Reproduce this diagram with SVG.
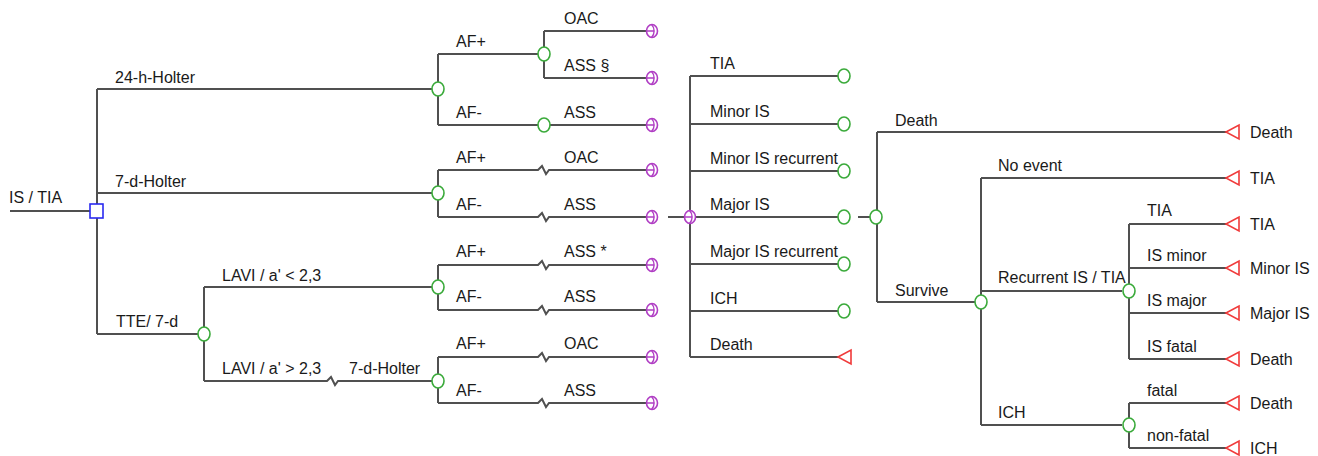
<svg xmlns="http://www.w3.org/2000/svg" width="1318" height="456" viewBox="0 0 1318 456">
<style>
.ln{fill:none;stroke:#505050;stroke-width:2}
.t{font-family:"Liberation Sans",Arial,sans-serif;font-size:16px;fill:#1a1a1a}
.ch{fill:#fff;stroke:#3aaa3a;stroke-width:1.6}
.mk{fill:#fff;stroke:#b03ec4;stroke-width:1.6}
.mi{fill:none;stroke:#b03ec4;stroke-width:1.4}
.tm{fill:#fff;stroke:#f03a3a;stroke-width:1.6}
.dc{fill:#fff;stroke:#2a2af0;stroke-width:1.6}
</style>
<defs>
<g id="chance"><ellipse class="ch" cx="0" cy="0" rx="6" ry="7"/></g>
<g id="markov"><ellipse class="mk" cx="0" cy="0" rx="5.5" ry="6.5"/><path class="mi" d="M-5.5,0 H2 M-0.5,-6.5 C3,-3 3,3 -0.5,6.5"/></g>
<g id="term"><polygon class="tm" points="0,0 13,-7 13,7"/></g>
</defs>
<rect width="1318" height="456" fill="#fff"/>
<g id="connectors">
<path class="ln" d="M10,211 H90 M97,89 V204 M97,218 V334 M97,89 H432 M97,193 H432 M97,334 H198"/>
<path class="ln" d="M204,287 V327 M204,341 V381 M204,287 H432 M204,381 H327 L331,377 L335,385 L338,381 H432"/>
<path class="ln" d="M438,54 V82 M438,96 V125 M438,54 H538 M438,125 H538 M544,31 V47 M544,61 V78 M544,31 H646 M544,78 H646 M550,125 H646"/>
<path class="ln" d="M438,170 V186 M438,200 V217 M438,170 H538 L542,166 L546,174 L549,170 H646 M438,217 H538 L542,213 L546,221 L549,217 H646 M668,217 H684"/>
<path class="ln" d="M438,265 V280 M438,294 V310 M438,265 H538 L542,261 L546,269 L549,265 H646 M438,310 H538 L542,306 L546,314 L549,310 H646"/>
<path class="ln" d="M438,357 V374 M438,388 V403 M438,357 H538 L542,353 L546,361 L549,357 H646 M438,403 H538 L542,399 L546,407 L549,403 H646"/>
<path class="ln" d="M690,76 V357 M690,76 H838 M690,124 H838 M690,171 H838 M696,217 H838 M690,264 H838 M690,311 H838 M690,357 H838"/>
<path class="ln" d="M858,217 H870 M877,132 V210 M877,224 V302 M877,132 H1226 M877,302 H975"/>
<path class="ln" d="M981,178 V295 M981,309 V425 M981,178 H1226 M981,291 H1122 M981,425 H1122"/>
<path class="ln" d="M1129,224 V284 M1129,298 V359 M1129,224 H1226 M1129,268 H1226 M1129,313 H1226 M1129,359 H1226"/>
<path class="ln" d="M1129,403 V418 M1129,432 V448 M1129,403 H1226 M1129,448 H1226"/>
</g>
<g id="n_root"><rect class="dc" x="90" y="204" width="13" height="14"/><text class="t" x="9" y="203">IS / TIA</text></g>
<g id="n_24h"><use href="#chance" x="438" y="89"/><text class="t" x="115" y="83">24-h-Holter</text></g>
<g id="n_7d"><use href="#chance" x="438" y="193"/><text class="t" x="115" y="187">7-d-Holter</text></g>
<g id="n_tte"><use href="#chance" x="204" y="334"/><text class="t" x="116" y="327">TTE/ 7-d</text></g>
<g id="n_lavi_lo"><use href="#chance" x="438" y="287"/><text class="t" x="222" y="281">LAVI / a' &lt; 2,3</text></g>
<g id="n_lavi_hi"><use href="#chance" x="438" y="381"/><text class="t" x="222" y="374">LAVI / a' &gt; 2,3</text><text class="t" x="349" y="374">7-d-Holter</text></g>
<g id="n_g1_afp"><use href="#chance" x="544" y="54"/><text class="t" x="456" y="47">AF+</text></g>
<g id="n_g1_afm"><use href="#chance" x="544" y="125"/><text class="t" x="456" y="118">AF-</text></g>
<g id="n_g1_oac"><use href="#markov" x="652" y="31"/><text class="t" x="564" y="24">OAC</text></g>
<g id="n_g1_ass"><use href="#markov" x="652" y="78"/><text class="t" x="564" y="71">ASS §</text></g>
<g id="n_g1_ass2"><use href="#markov" x="652" y="125"/><text class="t" x="564" y="118">ASS</text></g>
<g id="n_g2_oac"><use href="#markov" x="652" y="170"/><text class="t" x="456" y="163">AF+</text><text class="t" x="564" y="163">OAC</text></g>
<g id="n_g2_ass"><use href="#markov" x="652" y="217"/><text class="t" x="456" y="210">AF-</text><text class="t" x="564" y="210">ASS</text></g>
<g id="n_g3_ass"><use href="#markov" x="652" y="265"/><text class="t" x="456" y="257">AF+</text><text class="t" x="564" y="257">ASS *</text></g>
<g id="n_g3_ass2"><use href="#markov" x="652" y="310"/><text class="t" x="456" y="302">AF-</text><text class="t" x="564" y="302">ASS</text></g>
<g id="n_g4_oac"><use href="#markov" x="652" y="357"/><text class="t" x="456" y="349">AF+</text><text class="t" x="564" y="349">OAC</text></g>
<g id="n_g4_ass"><use href="#markov" x="652" y="403"/><text class="t" x="456" y="396">AF-</text><text class="t" x="564" y="396">ASS</text></g>
<g id="n_markov"><use href="#markov" x="690" y="217"/></g>
<g id="n_tia"><use href="#chance" x="844" y="76"/><text class="t" x="710" y="69">TIA</text></g>
<g id="n_minor"><use href="#chance" x="844" y="124"/><text class="t" x="710" y="117">Minor IS</text></g>
<g id="n_minor_rec"><use href="#chance" x="844" y="171"/><text class="t" x="710" y="164">Minor IS recurrent</text></g>
<g id="n_major"><use href="#chance" x="844" y="217"/><text class="t" x="710" y="210">Major IS</text></g>
<g id="n_major_rec"><use href="#chance" x="844" y="264"/><text class="t" x="710" y="257">Major IS recurrent</text></g>
<g id="n_ich"><use href="#chance" x="844" y="311"/><text class="t" x="710" y="304">ICH</text></g>
<g id="n_death"><use href="#term" x="838" y="357"/><text class="t" x="710" y="350">Death</text></g>
<g id="n_major2"><use href="#chance" x="876" y="217"/></g>
<g id="n_t_death1"><use href="#term" x="1226" y="132"/><text class="t" x="895" y="126">Death</text><text class="t" x="1250" y="138">Death</text></g>
<g id="n_survive"><use href="#chance" x="981" y="302"/><text class="t" x="895" y="296">Survive</text></g>
<g id="n_t_noevent"><use href="#term" x="1226" y="178"/><text class="t" x="998" y="171">No event</text><text class="t" x="1250" y="184">TIA</text></g>
<g id="n_recurrent"><use href="#chance" x="1129" y="291"/><text class="t" x="998" y="283">Recurrent IS / TIA</text></g>
<g id="n_t_tia"><use href="#term" x="1226" y="224"/><text class="t" x="1147" y="216">TIA</text><text class="t" x="1250" y="230">TIA</text></g>
<g id="n_t_minor"><use href="#term" x="1226" y="268"/><text class="t" x="1147" y="261">IS minor</text><text class="t" x="1250" y="274">Minor IS</text></g>
<g id="n_t_major"><use href="#term" x="1226" y="313"/><text class="t" x="1147" y="306">IS major</text><text class="t" x="1250" y="319">Major IS</text></g>
<g id="n_t_fatal"><use href="#term" x="1226" y="359"/><text class="t" x="1147" y="352">IS fatal</text><text class="t" x="1250" y="365">Death</text></g>
<g id="n_ich2"><use href="#chance" x="1129" y="425"/><text class="t" x="998" y="418">ICH</text></g>
<g id="n_t_ichfatal"><use href="#term" x="1226" y="403"/><text class="t" x="1147" y="396">fatal</text><text class="t" x="1250" y="409">Death</text></g>
<g id="n_t_ichnon"><use href="#term" x="1226" y="448"/><text class="t" x="1147" y="441">non-fatal</text><text class="t" x="1250" y="454">ICH</text></g>
</svg>
